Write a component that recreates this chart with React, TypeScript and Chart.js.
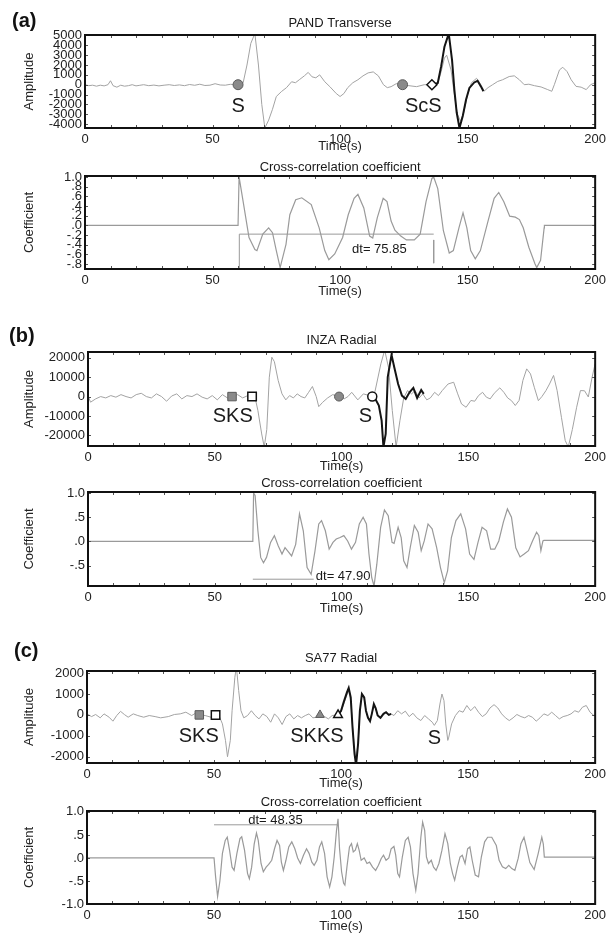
import React, { useEffect, useRef } from "react";
import { Chart, registerables } from "chart.js";
Chart.register(...registerables);

const FONT = "'Liberation Sans', Arial, Helvetica, sans-serif";
Chart.defaults.font.family = FONT;

const X_TICKS = [0, 50, 100, 150, 200];

// ---------- (a) PAND Transverse ----------
const A_T = [0, 1.5, 3, 4.5, 6, 7.5, 9, 10, 11, 12.5, 14, 15.5, 17, 18.5, 20, 21.5, 23, 25, 27, 29, 31, 33, 35, 37, 39, 41, 43, 45, 47, 49, 51, 53, 55, 57, 59, 60, 61, 62, 63.5, 65, 66.6, 68, 69.3, 70.5, 72, 73.5, 75, 77, 79, 81, 82.5, 84, 86, 87.5, 89, 90.5, 92, 94, 96, 98.5, 100, 101.5, 103, 105, 107, 109, 111, 113, 115, 117, 118.5, 120, 122, 124.5, 127, 130, 133, 136, 138.3, 139.6, 140.9, 141.8, 143.5, 144.8, 146, 147.2, 148.5, 150, 151.5, 153.5, 155, 156.5, 158, 159.8, 161.8, 163.7, 166.3, 168.3, 170.3, 172.2, 174, 176.2, 178.8, 181.4, 183, 184, 186, 187.3, 189, 190.6, 192.5, 194.5, 196.5, 198.2, 200];
const A_GRAY = [0, -100, -50, -150, -50, -120, 0, 400, -100, -250, -50, -150, -100, 0, -120, -60, 0, -100, -40, -120, -50, 0, -80, -20, -100, 20, -60, 50, -80, -50, 100, -30, -50, 40, 0, 0, 50, 200, 2000, 4200, 5200, 2000, -2000, -4400, -3600, -2500, -1200, -700, -300, 300, 200, 500, 900, 1250, 800, 700, 1000, 300, -200, -900, -1200, -900, -300, 200, 500, 900, 1200, 1300, 900, 0, -300, -200, 100, 0, -100, -200, 0, 0, 150, 1300, 2700, 3000, 1500, -1000, -3000, -3700, -2800, -1000, 200, 650, 100, -650, -300, 0, 330, 500, 830, 900, 500, 0, 50, -100, -230, -500, -670, 0, 1500, 1770, 1330, 500, -170, -250, -500, 0, 200];
const A_BLACK_T = [136.1, 137.2, 138.3, 139.6, 140.9, 142.6, 143.9, 144.8, 145.7, 146.8, 148.1, 149.4, 150.7, 152.6, 153.9, 155.2, 156.2];
const A_BLACK = [0, 50, 170, 1830, 3830, 5200, 2500, -500, -2800, -4400, -3170, -1500, -330, 230, 400, -170, -670];
const A_PRED_T = [60, 124.5];
const A_PICK_T = [136];
const A_PHASES = ["S", "ScS"];
const A_PHASE_T = [60, 132.6];
const A_PHASE_V = [-2200, -2200];
const A_Y_TICKS = [5000, 4000, 3000, 2000, 1000, 0, -1000, -2000, -3000, -4000];

const A_CC_T = [0, 60, 60.4, 62, 64.3, 66.6, 67.4, 69.7, 72, 73.5, 75, 76.5, 78.8, 80.3, 82.6, 85, 88.7, 91.8, 94, 95.6, 97.9, 101, 103.2, 105.5, 107, 109.3, 111.6, 112.8, 114.6, 116.9, 118.4, 120, 121.5, 123.8, 126, 129.1, 131.4, 133.7, 136, 136.7, 138.3, 140.5, 142.8, 144.4, 146.6, 148.2, 149.7, 151.2, 153, 155, 158, 160.4, 162.2, 164.2, 166.5, 168.7, 170.3, 171.8, 174, 176.4, 177.1, 178.6, 180, 180.1, 200];
const A_CC = [0, 0, 1.0, 0.49, -0.25, -0.5, -0.52, -0.18, -0.05, -0.15, -0.52, -0.87, -0.39, 0.22, 0.53, 0.57, 0.43, -0.05, -0.52, -0.71, -0.59, -0.25, 0.22, 0.56, 0.64, 0.36, -0.22, -0.26, 0.16, 0.56, 0.49, 0.09, -0.1, -0.22, -0.3, -0.3, -0.18, 0.49, 0.97, 1.0, 0.76, -0.11, -0.57, -0.52, -0.05, 0.26, -0.05, -0.52, -0.69, -0.52, 0.09, 0.56, 0.68, 0.49, 0.19, 0.17, 0.12, -0.05, -0.45, -0.79, -0.87, -0.72, -0.05, 0, 0];
const A_DT_T = [60.5, 60.5, 136.7];
const A_DT_V = [-0.92, -0.18, -0.18];
const A_DT2_T = [136.7, 136.7];
const A_DT2_V = [-0.3, -0.78];
const A_CC_TICKS = [1.0, 0.8, 0.6, 0.4, 0.2, 0, -0.2, -0.4, -0.6, -0.8];

// ---------- (b) INZA Radial ----------
const B_T = [0, 1, 3, 5, 7, 9, 11, 13, 15, 17, 19, 21, 23, 25, 27, 29, 31, 33, 35, 37, 39, 41, 43, 45, 47, 49, 51, 53, 55, 57, 59, 61, 63, 64.7, 66, 67, 68.5, 69.5, 70.5, 71.5, 72.5, 73.5, 75, 76.5, 78, 79.5, 81, 82.5, 84, 85.5, 87, 88.5, 90, 91, 92.5, 94.5, 96.5, 99, 101, 102.5, 104, 106.4, 108.6, 110.9, 112.1, 113.2, 115.5, 117, 118.5, 120, 121.5, 123, 124.5, 126, 127.6, 129, 130.6, 132, 133.6, 135, 136.7, 138.2, 139.7, 142, 144.2, 145.8, 147.3, 149.1, 151, 152.5, 154, 155.6, 157.1, 158.6, 160.2, 162.4, 164, 165.5, 167, 168.5, 170, 171.5, 173, 174.5, 176, 177.6, 179, 180.6, 182, 183.6, 185, 186.7, 188.2, 189.4, 191, 192.7, 194.2, 195.8, 197.3, 198.8, 200];
const B_GRAY = [500, -2900, -1200, 0, -700, 500, -300, 1000, 0, -700, 1000, 1700, 0, -700, 1400, 0, -2400, 300, 1400, -1200, 500, 0, 1400, -300, -1200, 500, -1700, 1000, -700, 0, 1000, -700, 500, 0, -1200, -7200, -19300, -26000, -17000, 10000, 20300, 18000, 8300, 1400, -1700, 500, -700, 1400, 0, -700, 2200, 5200, 0, -5200, -3000, -700, 1000, 0, -1200, 0, 2200, -1700, 1400, 500, 0, 2800, 16900, 24000, 15000, -7200, -26000, -12500, -700, 3100, 1400, 3100, -700, 1400, -1700, -700, 2200, 500, 3100, 6500, 7400, 1400, -3800, -5500, -2000, -2400, 500, 2200, -300, -1200, 1700, 4500, 2200, -700, -2100, -4600, -2000, 8300, 14300, 11700, 4800, -2100, 0, 3100, 6500, 10900, 3100, -10700, -22700, -26000, -17000, -5500, 3100, 3000, -200, 10000, 17000];
const B_BLACK_T = [112.1, 113, 114.7, 115.8, 116.5, 117.4, 118.2, 119.7, 120.8, 122.3, 123.8, 125.3, 126.8, 128.3, 129.8, 131.4, 132.4];
const B_BLACK = [0, -500, -4600, -12400, -26000, -19300, 10000, 21500, 15000, 6500, 500, -1200, 2200, 4500, -700, 3400, 1400];
const B_PRED_T = [56.8, 99];
const B_PICK_T = [64.7, 112.1];
const B_PHASES = ["SKS", "S"];
const B_PHASE_T = [57.1, 109.4];
const B_PHASE_V = [-10300, -10300];
const B_Y_TICKS = [20000, 10000, 0, -10000, -20000];

const B_CC_T = [0, 65, 65.3, 65.9, 67, 68.1, 69.2, 70.4, 72, 73.5, 75, 76.5, 77.7, 78.8, 80.3, 81.9, 83.4, 84.9, 86.4, 88, 89.5, 91, 92.1, 93.6, 95.1, 96.6, 97.9, 99.4, 100.9, 102.4, 103.9, 105.5, 107, 108.5, 109.8, 110.8, 111.9, 112.8, 113.9, 115.4, 116.9, 118.4, 119.9, 120.7, 122.3, 123.5, 124.5, 125.8, 127.1, 128.7, 130.2, 131.4, 132.6, 134.1, 135.7, 137.5, 139, 140.5, 141.8, 143.3, 145.1, 147, 148.9, 150.5, 152.2, 153.8, 155.4, 157.2, 158.8, 160.4, 162, 163.8, 165.4, 167, 168.7, 170.4, 172, 173.7, 175.3, 176.9, 177.8, 178.6, 179.4, 179.8, 200];
const B_CC = [0, 0, 1.0, 0.95, 0.22, -0.33, -0.44, -0.33, -0.02, 0.12, -0.09, -0.26, -0.13, -0.2, -0.3, -0.06, 0.57, 0.22, -0.54, -0.68, -0.2, 0.36, 0.43, 0.22, -0.16, -0.02, 0.05, 0.08, 0.12, 0.01, -0.16, -0.02, 0.36, 0.5, 0.36, -0.26, -0.75, -0.92, -0.47, 0.29, 0.65, 0.53, -0.02, -0.04, 0.29, 0.08, -0.4, -0.54, -0.12, 0.33, 0.19, -0.19, 0.01, 0.36, 0.26, -0.13, -0.54, -0.85, -0.61, 0.08, 0.43, 0.57, 0.26, -0.26, -0.37, -0.02, 0.29, 0.22, -0.16, -0.16, 0.01, 0.4, 0.67, 0.5, -0.13, -0.32, -0.26, -0.19, 0.01, 0.19, 0.12, -0.19, 0.01, 0.02, 0.02];
const B_DT_T = [65, 89];
const B_DT_V = [-0.78, -0.78];
const B_CC_TICKS = [1.0, 0.5, 0, -0.5];

// ---------- (c) SA77 Radial ----------
const C_T = [0, 1.8, 3.4, 5.2, 6.7, 8.7, 10.2, 11.7, 13.2, 14.7, 16.2, 18.2, 20, 22.3, 24.5, 26.8, 29, 32, 34.4, 36.7, 38.9, 41.2, 42.7, 44.2, 46.5, 48.8, 50.6, 52.1, 53.3, 54.5, 55.3, 56.4, 57.1, 58.2, 58.8, 59.7, 60.6, 61.7, 63.2, 64.7, 66.2, 67.7, 69.2, 70.8, 72.3, 73.8, 75.3, 76.8, 78.3, 79.8, 81.4, 82.9, 84.4, 85.9, 87.4, 88.9, 90.5, 91.7, 93.5, 95, 96.5, 98.8, 100, 101, 102.3, 103, 103.8, 104.5, 105.3, 105.9, 106.7, 107.4, 108.2, 109.1, 109.8, 110.6, 111.4, 112.1, 112.9, 113.6, 114.4, 115.5, 116.7, 117.7, 118.8, 119.7, 120.8, 122.3, 123.8, 125.3, 126.8, 128.3, 129.8, 131.4, 132.9, 134.4, 135.9, 136.7, 137.9, 138.9, 139.7, 140.5, 141.2, 142, 142.4, 143.5, 145, 146.5, 148, 149.5, 151, 152.6, 154.1, 155.6, 157.1, 158.6, 160.2, 161.7, 163.2, 164.7, 166.2, 167.7, 169.2, 170.8, 172.3, 173.8, 175.3, 176.8, 178.3, 179.8, 181.4, 182.9, 184.4, 185.9, 187.4, 189, 190.5, 192, 193.5, 195, 196.5, 198, 199.5, 200];
const C_GRAY = [50, -80, 20, -140, 50, -110, -300, -30, 170, 20, -110, 50, -30, -110, -30, -80, -140, -80, 20, 50, 130, -30, 80, 0, -30, -110, 0, -80, -430, -1220, -2000, -1220, 200, 1800, 2300, 1160, 200, -140, -30, 200, -30, -190, 50, -80, -350, 50, -140, -460, -80, 50, -190, -30, -140, -30, 50, -140, -110, 0, -80, -190, -30, 0, 150, 500, 950, 1150, 700, -500, -1700, -2200, -1300, 150, 900, 800, 200, -150, -250, 50, 450, 300, 0, -150, 50, 130, 0, 50, -30, 200, 50, 180, -80, 80, -140, -270, -30, -190, -350, -500, -270, 520, 1000, 680, -430, -1220, -1060, -430, -30, 200, 130, 450, 200, 400, 130, -80, 50, 330, 490, 330, 50, -140, -270, -140, 20, -80, -140, -30, -110, -300, -140, 50, -30, 130, -30, -190, -80, -30, 50, 200, 130, 370, 450, 130, -30, 0];
const C_BLACK_T = [98.8, 100, 101, 102.3, 103, 103.8, 104.5, 105.3, 105.9, 106.7, 107.4, 108.2, 109.1, 109.8, 110.6, 111.4, 112.1, 112.9, 113.6, 114.4, 115.5, 116.7, 117.7, 118.8, 119.7];
const C_BLACK = [0, 200, 600, 1080, 1290, 840, -590, -1860, -2400, -1380, 200, 1000, 840, 200, -140, -300, 50, 520, 330, -30, -140, 50, 130, 0, 50];
const C_PRED_SQ_T = [44.2];
const C_PICK_SQ_T = [50.6];
const C_PRED_TRI_T = [91.7];
const C_PICK_TRI_T = [98.8];
const C_PHASES = ["SKS", "SKKS", "S"];
const C_PHASE_T = [44, 90.5, 136.7];
const C_PHASE_V = [-1030, -1030, -1150];
const C_Y_TICKS = [2000, 1000, 0, -1000, -2000];

const C_CC_T = [0, 50, 50.6, 51.4, 52.3, 53.3, 54.4, 55.2, 56.1, 57.1, 57.9, 59, 60.2, 60.9, 62, 63.2, 63.9, 64.8, 65.8, 66.7, 67.4, 68.5, 69.4, 70.5, 71.5, 72.7, 73.8, 74.8, 75.8, 76.5, 77.3, 78.3, 79.4, 80.6, 81.8, 82.9, 84, 85.2, 86.4, 87.4, 88.5, 89.4, 90.5, 91.5, 92.4, 93.5, 94.5, 95.5, 96.4, 97.3, 98.2, 98.8, 99.4, 100.2, 101, 101.5, 102.3, 103.3, 104.1, 104.8, 105.6, 106.4, 107.1, 107.9, 109.1, 110.2, 111.2, 112.4, 113.6, 114.7, 115.8, 116.7, 117.7, 118.8, 119.7, 120.8, 121.5, 122.3, 123, 124.1, 125.3, 126.4, 127.3, 128.3, 129.4, 130.3, 131.4, 132.1, 132.9, 133.6, 134.4, 135.5, 136.4, 137.4, 138.5, 139.7, 140.9, 142, 143, 143.9, 144.7, 145.8, 146.8, 147.7, 148.8, 149.8, 150.7, 151.6, 152.8, 154.1, 155.2, 156.5, 157.7, 159.3, 161.1, 162.2, 163.5, 164.8, 166, 167.2, 168.4, 169.7, 170.8, 172, 172.9, 174.3, 176, 177.6, 179, 179.6, 180, 200];
const C_CC = [0, 0, -0.4, -0.84, -0.5, 0.1, 0.38, 0.45, 0.17, -0.2, -0.27, 0.1, 0.42, 0.46, 0.17, -0.34, -0.45, -0.2, 0.3, 0.54, 0.38, -0.12, -0.3, -0.2, -0.14, -0.05, 0.2, 0.38, 0.27, -0.09, -0.27, -0.05, 0.24, 0.35, 0.2, 0, -0.12, 0.06, 0.2, 0.1, -0.09, -0.16, -0.05, 0.24, 0.35, 0.1, -0.41, -0.63, -0.41, 0.02, 0.6, 0.85, 0.2, -0.3, -0.55, -0.59, -0.2, 0.24, 0.31, 0.13, 0.17, 0.31, 0.17, -0.05, 0, -0.12, -0.09, -0.2, -0.27, -0.16, -0.01, 0.06, -0.05, 0, 0.2, 0.25, 0.06, -0.34, -0.41, 0.02, 0.38, 0.45, 0.24, -0.34, -0.7, -0.34, 0.45, 0.78, 0.6, 0.02, -0.12, -0.05, -0.2, -0.27, -0.12, 0.17, 0.53, 0.31, -0.12, -0.34, -0.48, -0.2, 0.02, 0.06, -0.12, 0.2, 0.24, -0.05, -0.37, -0.41, 0.02, 0.35, 0.45, 0.45, 0.27, -0.05, -0.19, -0.23, -0.16, -0.23, -0.27, -0.01, 0.31, 0.45, 0.24, -0.1, -0.25, 0.1, 0.45, 0.3, 0.02, 0.02];
const C_DT_T = [50, 98.5];
const C_DT_V = [0.72, 0.72];
const C_CC_TICKS = [1.0, 0.5, 0, -0.5, -1.0];

// ---------- helpers ----------
const pts = (t: number[], v: number[]) => t.map((x, i) => ({ x, y: v[i] }));
const zeros = (t: number[]) => t.map((x) => ({ x, y: 0 }));

function fmtInt(v: number) {
  return String(Math.round(v));
}
function fmtCoef(v: number) {
  if (Math.abs(v - 1) < 1e-9) return "1.0";
  if (Math.abs(v + 1) < 1e-9) return "-1.0";
  if (Math.abs(v) < 1e-9) return ".0";
  const s = Math.abs(v).toFixed(1).replace(/^0/, "");
  return (v < 0 ? "-" : "") + s;
}

const GRAY = "#a3a3a3";
const CCGRAY = "#9a9a9a";
const BLACK = "#141414";

type TextItem = { x: number; y: number; text: string; size: number };
type Spec = {
  top: number;
  bottom: number;
  left: number;
  right: number;
  yMin: number;
  yMax: number;
  yTicks: number[];
  fmt: (v: number) => string;
  yTitle: string;
  title: string;
  titleOffset: number;
  timeOffset: number;
  datasets: any[];
  texts: TextItem[];
};

const lineDs = (data: any[], color: string, width: number) => ({
  data,
  borderColor: color,
  backgroundColor: color,
  borderWidth: width,
  pointRadius: 0,
  tension: 0,
  fill: false,
});

const markerDs = (data: any[], style: string, radius: number, filled: boolean) => ({
  data,
  showLine: false,
  pointStyle: style,
  pointRadius: radius,
  pointBackgroundColor: filled ? "#8a8a8a" : "#ffffff",
  pointBorderColor: filled ? "#5a5a5a" : "#111111",
  pointBorderWidth: filled ? 1 : 1.5,
  borderColor: "transparent",
});

const textItems = (labels: string[], t: number[], v: number[], size: number): TextItem[] =>
  labels.map((s, i) => ({ x: t[i], y: v[i], text: s, size }));

const SPECS: Spec[] = [
  {
    top: 35, bottom: 128, left: 85, right: 596,
    yMin: -4400, yMax: 5050, yTicks: A_Y_TICKS, fmt: fmtInt,
    yTitle: "Amplitude", title: "PAND Transverse", titleOffset: 12, timeOffset: 18,
    datasets: [
      markerDs(zeros(A_PICK_T), "rectRot", 5, false),
      markerDs(zeros(A_PRED_T), "circle", 5, true),
      lineDs(pts(A_BLACK_T, A_BLACK), BLACK, 2),
      lineDs(pts(A_T, A_GRAY), GRAY, 1),
    ],
    texts: textItems(A_PHASES, A_PHASE_T, A_PHASE_V, 20),
  },
  {
    top: 176, bottom: 269, left: 85, right: 596,
    yMin: -0.9, yMax: 1.02, yTicks: A_CC_TICKS, fmt: fmtCoef,
    yTitle: "Coefficient", title: "Cross-correlation coefficient", titleOffset: 9, timeOffset: 22,
    datasets: [
      lineDs(pts(A_CC_T, A_CC), CCGRAY, 1.2),
      lineDs(pts(A_DT_T, A_DT_V), CCGRAY, 1),
      lineDs(pts(A_DT2_T, A_DT2_V), CCGRAY, 1),
    ],
    texts: [{ x: 115.4, y: -0.5, text: "dt= 75.85", size: 13 }],
  },
  {
    top: 352, bottom: 446, left: 88, right: 597,
    yMin: -25500, yMax: 23000, yTicks: B_Y_TICKS, fmt: fmtInt,
    yTitle: "Amplitude", title: "INZA Radial", titleOffset: 12, timeOffset: 20,
    datasets: [
      markerDs(zeros(B_PICK_T.slice(0, 1)), "rect", 6, false),
      markerDs(zeros(B_PICK_T.slice(1)), "circle", 4.5, false),
      markerDs(zeros(B_PRED_T.slice(0, 1)), "rect", 6, true),
      markerDs(zeros(B_PRED_T.slice(1)), "circle", 4.5, true),
      lineDs(pts(B_BLACK_T, B_BLACK), BLACK, 2),
      lineDs(pts(B_T, B_GRAY), GRAY, 1),
    ],
    texts: textItems(B_PHASES, B_PHASE_T, B_PHASE_V, 20),
  },
  {
    top: 492, bottom: 586, left: 88, right: 597,
    yMin: -0.92, yMax: 1.02, yTicks: B_CC_TICKS, fmt: fmtCoef,
    yTitle: "Coefficient", title: "Cross-correlation coefficient", titleOffset: 9, timeOffset: 22,
    datasets: [
      lineDs(pts(B_CC_T, B_CC), CCGRAY, 1.2),
      lineDs(pts(B_DT_T, B_DT_V), CCGRAY, 1),
    ],
    texts: [{ x: 100.6, y: -0.72, text: "dt= 47.90", size: 13 }],
  },
  {
    top: 671, bottom: 763, left: 87, right: 597,
    yMin: -2300, yMax: 2100, yTicks: C_Y_TICKS, fmt: fmtInt,
    yTitle: "Amplitude", title: "SA77 Radial", titleOffset: 13, timeOffset: 20,
    datasets: [
      markerDs(zeros(C_PICK_SQ_T), "rect", 6, false),
      markerDs(zeros(C_PICK_TRI_T), "triangle", 5, false),
      markerDs(zeros(C_PRED_SQ_T), "rect", 6, true),
      markerDs(zeros(C_PRED_TRI_T), "triangle", 5, true),
      lineDs(pts(C_BLACK_T, C_BLACK), BLACK, 2),
      lineDs(pts(C_T, C_GRAY), GRAY, 1),
    ],
    texts: textItems(C_PHASES, C_PHASE_T, C_PHASE_V, 20),
  },
  {
    top: 811, bottom: 904, left: 87, right: 597,
    yMin: -1.0, yMax: 1.02, yTicks: C_CC_TICKS, fmt: fmtCoef,
    yTitle: "Coefficient", title: "Cross-correlation coefficient", titleOffset: 9, timeOffset: 22,
    datasets: [
      lineDs(pts(C_CC_T, C_CC), CCGRAY, 1.2),
      lineDs(pts(C_DT_T, C_DT_V), CCGRAY, 1),
    ],
    texts: [{ x: 74.2, y: 0.81, text: "dt= 48.35", size: 13 }],
  },
];

const PAD_TOP = 30;
const X_AXIS_H = 32;

function Panel({ spec }: { spec: Spec }) {
  const ref = useRef<HTMLCanvasElement | null>(null);
  const plotH = spec.bottom - spec.top;
  const canvasH = PAD_TOP + plotH + X_AXIS_H;

  useEffect(() => {
    if (!ref.current) return;
    const decor = {
      id: "decor",
      afterDraw(chart: any) {
        const { ctx, chartArea: a, scales } = chart;
        ctx.save();
        // small inward ticks
        ctx.strokeStyle = "#555";
        ctx.lineWidth = 1;
        for (let t = 10; t < 200; t += 10) {
          const px = Math.round(scales.x.getPixelForValue(t)) + 0.5;
          ctx.beginPath();
          ctx.moveTo(px, a.bottom);
          ctx.lineTo(px, a.bottom - 3);
          ctx.moveTo(px, a.top);
          ctx.lineTo(px, a.top + 3);
          ctx.stroke();
        }
        for (const v of spec.yTicks) {
          const py = Math.round(scales.y.getPixelForValue(v)) + 0.5;
          ctx.beginPath();
          ctx.moveTo(a.left, py);
          ctx.lineTo(a.left + 3, py);
          ctx.moveTo(a.right, py);
          ctx.lineTo(a.right - 3, py);
          ctx.stroke();
        }
        // frame
        ctx.lineWidth = 2;
        ctx.strokeStyle = "#111";
        ctx.strokeRect(a.left, a.top, a.right - a.left, a.bottom - a.top);
        // title
        ctx.fillStyle = "#1a1a1a";
        ctx.font = `13px ${FONT}`;
        ctx.textAlign = "center";
        ctx.textBaseline = "middle";
        ctx.fillText(spec.title, (a.left + a.right) / 2, a.top - spec.titleOffset);
        // annotations
        for (const it of spec.texts) {
          ctx.font = `${it.size}px ${FONT}`;
          ctx.fillText(it.text, scales.x.getPixelForValue(it.x), scales.y.getPixelForValue(it.y));
        }
        ctx.restore();
      },
    };

    const chart = new Chart(ref.current, {
      type: "line",
      data: { datasets: spec.datasets },
      options: {
        animation: false,
        responsive: false,
        maintainAspectRatio: false,
        layout: { padding: { top: PAD_TOP, right: 610 - spec.right, bottom: 0, left: 0 } },
        plugins: { legend: { display: false }, tooltip: { enabled: false }, title: { display: false } },
        scales: {
          x: {
            type: "linear",
            min: 0,
            max: 200,
            afterBuildTicks: (s: any) => {
              s.ticks = X_TICKS.map((v) => ({ value: v }));
            },
            afterFit: (s: any) => {
              s.height = X_AXIS_H;
            },
            grid: { display: false, drawTicks: false, tickLength: 0 },
            border: { display: false },
            ticks: { font: { size: 13 }, color: "#222", padding: 4, maxRotation: 0, autoSkip: false },
            title: {
              display: true,
              text: "Time(s)",
              font: { size: 13 },
              color: "#222",
              padding: { top: 0, bottom: X_AXIS_H - 7.8 - spec.timeOffset },
            },
          },
          y: {
            type: "linear",
            min: spec.yMin,
            max: spec.yMax,
            afterBuildTicks: (s: any) => {
              s.ticks = spec.yTicks.map((v) => ({ value: v }));
            },
            afterFit: (s: any) => {
              s.width = spec.left;
            },
            grid: { display: false, drawTicks: false, tickLength: 0 },
            border: { display: false },
            ticks: {
              font: { size: 13 },
              color: "#222",
              padding: 3,
              autoSkip: false,
              callback: (v: any) => spec.fmt(Number(v)),
            },
            title: {
              display: true,
              text: spec.yTitle,
              font: { size: 13 },
              color: "#222",
              padding: { top: 22, bottom: 0 },
            },
          },
        },
      } as any,
      plugins: [decor],
    });
    return () => chart.destroy();
  }, [spec]);

  return (
    <canvas
      ref={ref}
      width={610}
      height={canvasH}
      style={{ position: "absolute", left: 0, top: spec.top - PAD_TOP, width: 610, height: canvasH }}
    />
  );
}

const PANEL_LETTERS = ["(a)", "(b)", "(c)"];
const LETTER_TOP = [9, 324, 639];
const LETTER_LEFT = [12, 9, 14];

export default function App() {
  return (
    <div style={{ position: "absolute", left: 0, top: 0, width: 610, height: 939, background: "#fff", overflow: "hidden" }}>
      {SPECS.map((s, i) => (
        <Panel key={i} spec={s} />
      ))}
      {PANEL_LETTERS.map((l, i) => (
        <div
          key={l}
          style={{
            position: "absolute",
            left: LETTER_LEFT[i],
            top: LETTER_TOP[i],
            fontFamily: FONT,
            fontWeight: "bold",
            fontSize: 20,
            lineHeight: "22px",
            color: "#111",
          }}
        >
          {l}
        </div>
      ))}
    </div>
  );
}
